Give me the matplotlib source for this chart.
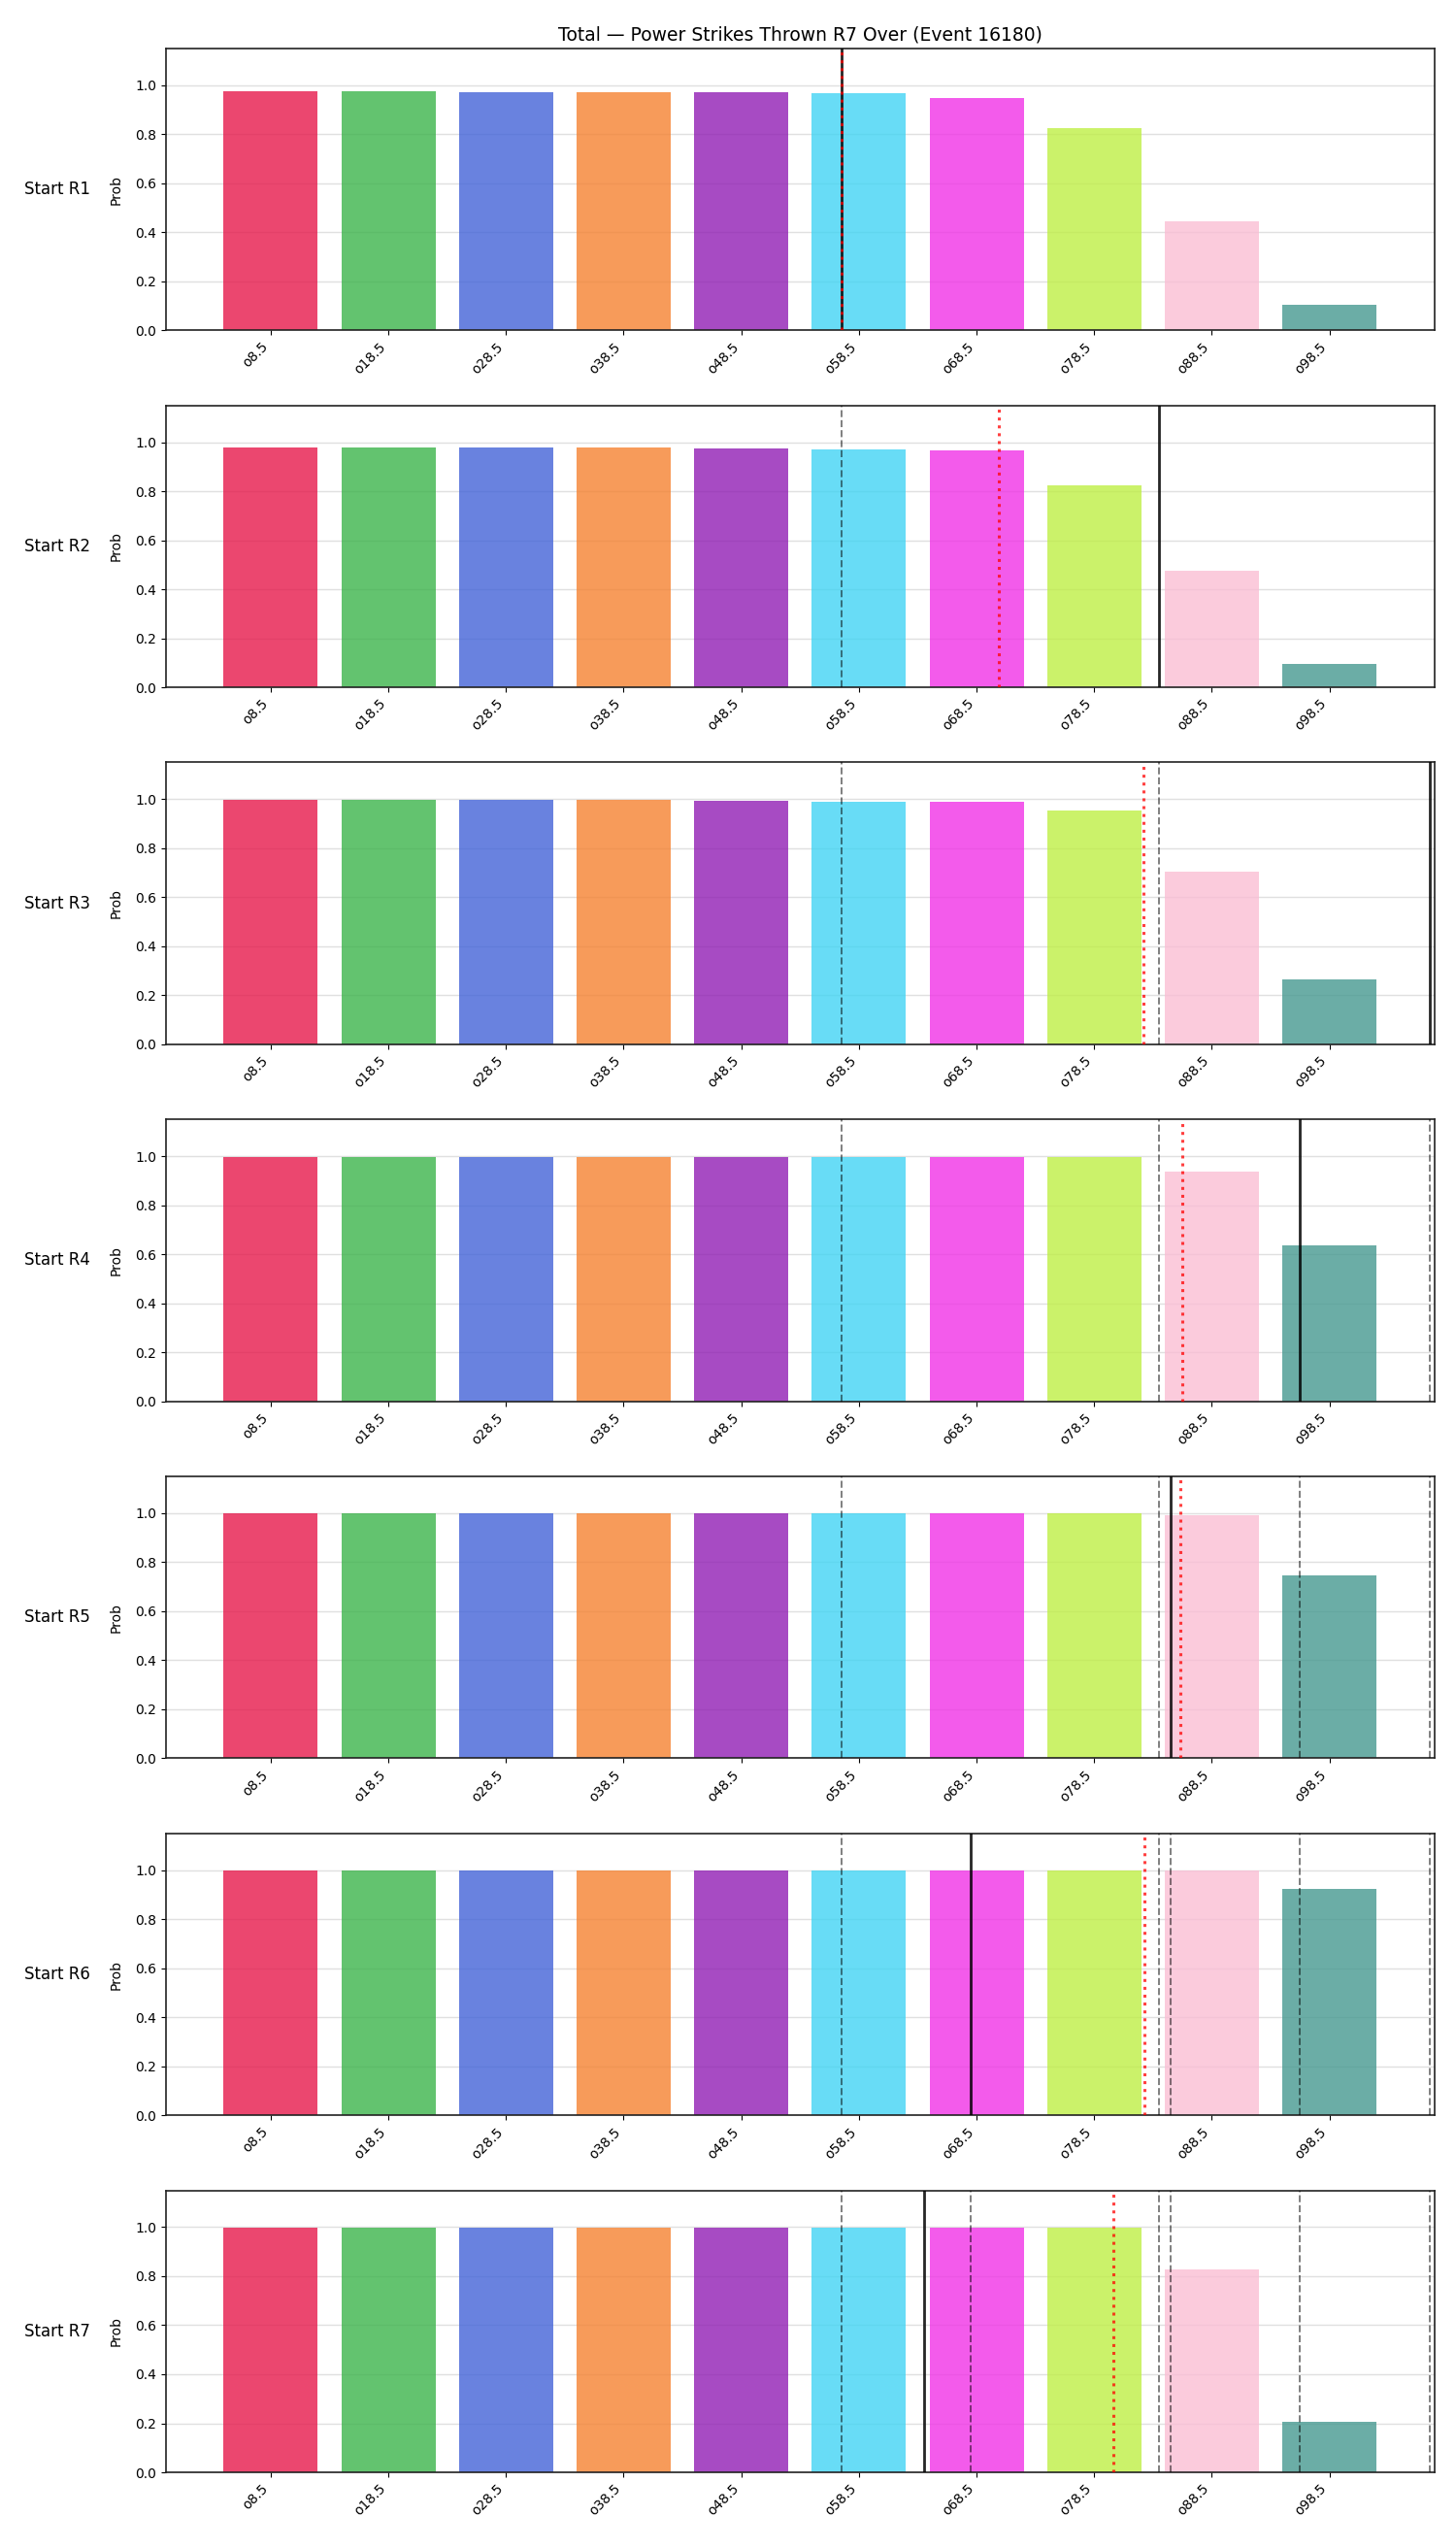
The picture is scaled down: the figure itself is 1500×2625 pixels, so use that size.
import matplotlib
matplotlib.use('Agg')
import matplotlib.pyplot as plt

# over lines and round data
lines = ['o8.5', 'o18.5', 'o28.5', 'o38.5', 'o48.5', 'o58.5', 'o68.5', 'o78.5', 'o88.5', 'o98.5']
line_vals = [8.5, 18.5, 28.5, 38.5, 48.5, 58.5, 68.5, 78.5, 88.5, 98.5]
rounds = ['Start R1', 'Start R2', 'Start R3', 'Start R4', 'Start R5', 'Start R6', 'Start R7']

probs_r1 = [0.974, 0.974, 0.970, 0.970, 0.970, 0.966, 0.946, 0.823, 0.443, 0.106]
probs_r2 = [0.980, 0.980, 0.977, 0.977, 0.975, 0.971, 0.967, 0.825, 0.476, 0.096]
probs_r3 = [0.997, 0.997, 0.996, 0.996, 0.995, 0.991, 0.991, 0.955, 0.705, 0.266]
probs_r4 = [0.998, 0.998, 0.998, 0.998, 0.997, 0.997, 0.997, 0.997, 0.936, 0.635]
probs_r5 = [0.998, 0.998, 0.998, 0.998, 0.998, 0.998, 0.998, 0.998, 0.993, 0.747]
probs_r6 = [0.998, 0.998, 0.998, 0.998, 0.998, 0.998, 0.998, 0.998, 0.997, 0.925]
probs_r7 = [0.998, 0.998, 0.998, 0.998, 0.998, 0.998, 0.998, 0.998, 0.826, 0.206]
probs = [probs_r1, probs_r2, probs_r3, probs_r4, probs_r5, probs_r6, probs_r7]

actual = [57, 84, 107, 96, 85, 68, 64]          # black solid (earlier ones grey dashed)
projected = [57.0, 70.4, 82.7, 86.0, 85.8, 82.8, 80.1]  # red dotted

colors = ['#e6194b', '#3cb44b', '#4363d8', '#f58231', '#911eb4',
          '#42d4f4', '#f032e6', '#bfef45', '#fabed4', '#469990']


def to_pos(v):
    # value on the strike scale -> bar index position
    return (v - line_vals[0]) / (line_vals[1] - line_vals[0])


fig, axes = plt.subplots(len(rounds), 1, figsize=(15, 26.25), dpi=100)
plt.subplots_adjust(left=0.114, right=0.985, top=0.981, bottom=0.0297, hspace=0.266)

x = list(range(len(lines)))
for i, ax in enumerate(axes):
    ax.bar(x, probs[i], width=0.8, color=colors, alpha=0.8, zorder=2)
    ax.set_ylim(0, 1.15)
    ax.set_xticks(x)
    ax.set_xticklabels(lines, rotation=45, ha='right', fontsize=10)
    ax.tick_params(axis='y', labelsize=10)
    ax.set_ylabel('Prob', fontsize=10, labelpad=9)
    ax.grid(axis='y', color='#e0e0e0', linewidth=1, zorder=0)
    ax.set_axisbelow(True)
    for s in ax.spines.values():
        s.set_color('#222222')
        s.set_linewidth(1.2)

    for j in range(i):
        ax.axvline(to_pos(actual[j]), color='k', ls='--', lw=1.4, alpha=0.5, zorder=3)
    ax.axvline(to_pos(actual[i]), color='k', lw=2, alpha=0.85, zorder=4)
    ax.axvline(to_pos(projected[i]), color='red', ls=':', lw=2.2, alpha=0.75, zorder=5)

    ax.text(-0.06, 0.5, rounds[i], transform=ax.transAxes, ha='right', va='center', fontsize=12)

axes[0].set_title('Total — Power Strikes Thrown R7 Over (Event 16180)', fontsize=13.5)

plt.savefig('out.png')
